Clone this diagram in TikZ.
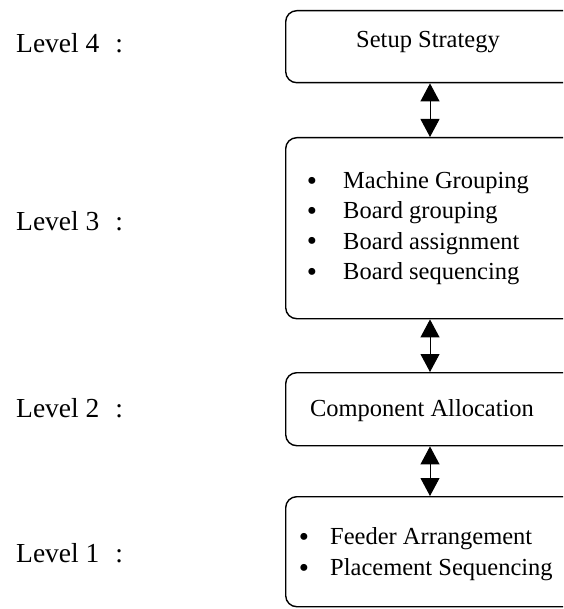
\documentclass[tikz,border=0pt]{standalone}
\usepackage{fontspec}
\setmainfont{Liberation Serif}
\usetikzlibrary{arrows.meta}
\begin{document}
\begin{tikzpicture}[x=1pt,y=-1pt,
  stage/.style={draw, line width=1.4pt, rounded corners=11pt, minimum width=300pt,
                inner sep=0pt, anchor=north west},
  lvl/.style={font=\fontsize{27.5}{32}\selectfont, anchor=base west, inner sep=0pt},
  boxtext/.style={font=\fontsize{24.5}{30}\selectfont, inner sep=0pt},
  bul/.style={font=\fontsize{29}{30}\selectfont, inner sep=0pt, anchor=base},
  link/.style={line width=1pt,
               {Triangle[length=18pt,width=19pt]}-{Triangle[length=18pt,width=19pt]}}
]
\useasboundingbox (0,0) rectangle (563,609);
\clip (0,0) rectangle (563,609);

% level captions
\node[lvl] (l4) at (16,53)  {Level 4\hspace{16pt}:};
\node[lvl] (l3) at (16,230) {Level 3\hspace{16pt}:};
\node[lvl] (l2) at (16,417) {Level 2\hspace{16pt}:};
\node[lvl] (l1) at (16,562) {Level 1\hspace{16pt}:};

% stage boxes (right side runs off the page)
\node[stage, minimum height=72pt]  (b1) at (285,10)  {};
\node[stage, minimum height=181pt] (b2) at (285,137) {};
\node[stage, minimum height=73pt]  (b3) at (285,372) {};
\node[stage, minimum height=110pt] (b4) at (285,496) {};

% box contents
\node[boxtext, anchor=base] (t1) at (428,48)  {Setup Strategy};
\node[boxtext, anchor=base] (t3) at (422,416) {Component Allocation};

\foreach \txt [count=\i] in {Machine Grouping, Board grouping, Board assignment, Board sequencing}{
  \node[bul] (p\i) at (312,191+30*\i-30) {\textbullet};
  \node[boxtext, anchor=base west] (m\i) at (343,189+30*\i-30) {\txt};
}
\foreach \txt [count=\i] in {Feeder Arrangement, Placement Sequencing}{
  \node[bul] (q\i) at (304,546+31*\i-31) {\textbullet};
  \node[boxtext, anchor=base west] (f\i) at (330,544+31*\i-31) {\txt};
}

% two-way links between levels
\coordinate (ax) at (430,0);
\draw[link] (b1.south -| ax) -- (b2.north -| ax);
\draw[link] (b2.south -| ax) -- (b3.north -| ax);
\draw[link] (b3.south -| ax) -- (b4.north -| ax);
\end{tikzpicture}
\end{document}
